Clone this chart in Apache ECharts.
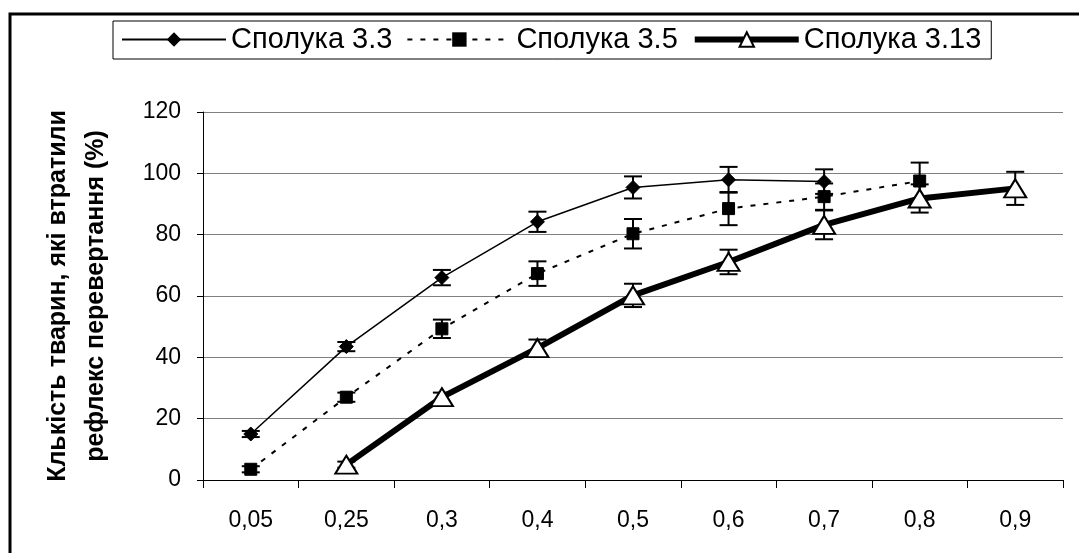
<!DOCTYPE html>
<html>
<head>
<meta charset="utf-8">
<script src="https://cdn.jsdelivr.net/npm/echarts@6/dist/echarts.min.js"></script>
<style>
html,body{margin:0;padding:0;background:#fff;}
#chart{width:1079px;height:553px;}
</style>
</head>
<body>
<div id="chart"></div>
<script>
var categories = ['0,05','0,25','0,3','0,4','0,5','0,6','0,7','0,8','0,9'];
var yTicks = [0,20,40,60,80,100,120];
var names = ['Сполука 3.3','Сполука 3.5','Сполука 3.13'];
var s33 = [15, 43.5, 66, 84.2, 95.4, 97.9, 97.3, null, null];
var s35 = [3.5, 27, 49.3, 67.3, 80.3, 88.5, 92.4, 97.5, null];
var s313 = [null, 5, 27, 43, 60.2, 71.1, 83.2, 91.8, 95.1];
var e33 = [1, 1.5, 2.5, 3.3, 3.6, 4.2, 4, null, null];
var e35 = [1, 1.5, 3, 4, 4.8, 5.4, 4.3, 6, null];
var e313 = [null, 1, 1.5, 2.8, 3.8, 4, 4.7, 4.6, 5.4];

function errData(vals, errs){
  var out = [];
  for (var i = 0; i < vals.length; i++){
    if (vals[i] != null && errs[i] != null) out.push([i, vals[i]-errs[i], vals[i]+errs[i]]);
  }
  return out;
}
function errSeries(vals, errs){
  return {
    type: 'custom',
    z: 1,
    silent: true,
    data: errData(vals, errs),
    renderItem: function(params, api){
      var x = api.value(0);
      var lo = api.coord([x, api.value(1)]);
      var hi = api.coord([x, api.value(2)]);
      var hw = 9;
      var st = {stroke:'#000', lineWidth:2};
      return {type:'group', children:[
        {type:'line', shape:{x1:lo[0],y1:lo[1],x2:hi[0],y2:hi[1]}, style:st},
        {type:'line', shape:{x1:lo[0]-hw,y1:lo[1],x2:lo[0]+hw,y2:lo[1]}, style:st},
        {type:'line', shape:{x1:hi[0]-hw,y1:hi[1],x2:hi[0]+hw,y2:hi[1]}, style:st}
      ]};
    }
  };
}

var chart = echarts.init(document.getElementById('chart'), null, {renderer:'canvas'});
var font = 'Liberation Sans, Arial, sans-serif';
chart.setOption({
  animation: false,
  backgroundColor: '#fff',
  textStyle: {fontFamily: font, color:'#000'},
  graphic: [{
    type:'rect', z: 100, silent: true,
    shape:{x:10, y:14, width:1200, height:700},
    style:{fill:'none', stroke:'#000', lineWidth:3}
  }],
  legend: {
    left: 113, top: 21,
    data: [
      {name: names[0]},
      {name: names[1]},
      {name: names[2], lineStyle:{width:6}, itemStyle:{color:'#fff', borderColor:'#000', borderWidth:2}}
    ],
    itemWidth: 104, itemHeight: 18, itemGap: 14,
    padding: [4, 10, 5, 8],
    borderColor: '#000', borderWidth: 1,
    textStyle: {fontFamily: font, fontSize: 29, color: '#000'}
  },
  grid: {left: 203, right: 16, top: 112, bottom: 73, containLabel: false},
  xAxis: {
    type: 'category',
    data: categories,
    boundaryGap: true,
    axisLine: {lineStyle:{color:'#000', width:1}},
    axisTick: {show:true, length:8, alignWithLabel:false, lineStyle:{color:'#000'}},
    axisLabel: {fontFamily: font, fontSize: 23, color:'#000', margin: 29},
    splitLine: {show:false}
  },
  yAxis: {
    type: 'value',
    min: yTicks[0], max: yTicks[yTicks.length-1], interval: 20,
    name: 'Клькість тварин, які втратили\nрефлекс перевертання (%)',
    nameLocation: 'middle', nameRotate: 90, nameGap: 88,
    nameTextStyle: {fontFamily: font, fontSize: 25, fontWeight:'bold', color:'#000', lineHeight: 38},
    axisLine: {show:true, lineStyle:{color:'#000', width:1}},
    axisTick: {show:true, length:6, lineStyle:{color:'#000'}},
    axisLabel: {fontFamily: font, fontSize: 23, color:'#000', margin: 22},
    splitLine: {show:true, lineStyle:{color:'#808080', width:1}}
  },
  series: [
    errSeries(s33, e33),
    errSeries(s35, e35),
    errSeries(s313, e313),
    {
      name: names[0], type:'line', data: s33, z: 3,
      symbol:'diamond', symbolSize: 14,
      lineStyle:{color:'#000', width:1.5},
      itemStyle:{color:'#000', borderColor:'#000'}
    },
    {
      name: names[1], type:'line', data: s35, z: 3,
      symbol:'rect', symbolSize: 12,
      lineStyle:{color:'#000', width:2, type:[5,8]},
      itemStyle:{color:'#000', borderColor:'#000'}
    },
    {
      name: names[2], type:'line', data: s313, z: 4,
      symbol:'triangle', symbolSize: [22, 18], showAllSymbol: true,
      lineStyle:{color:'#000', width:6},
      itemStyle:{color:'#fff', borderColor:'#000', borderWidth:2}
    }
  ]
});
</script>
</body>
</html>
